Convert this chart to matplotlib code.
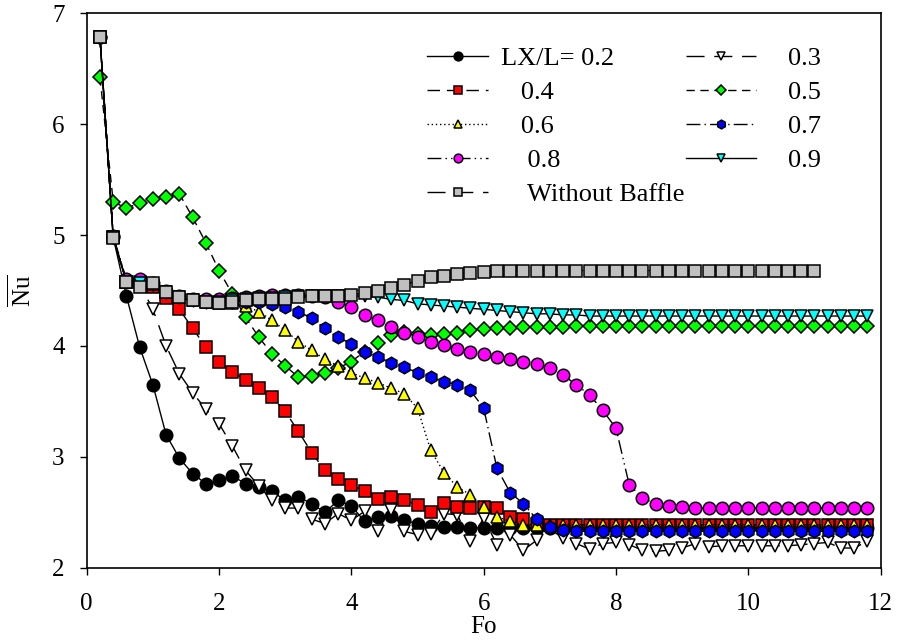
import numpy as np
import matplotlib
matplotlib.use('Agg')
import matplotlib.pyplot as plt

plt.rcParams['font.family'] = 'Liberation Serif'
plt.rcParams['mathtext.fontset'] = 'custom'
plt.rcParams['mathtext.rm'] = 'Liberation Serif'

fo = np.round(np.arange(0.2, 11.81, 0.2), 1)
fo_nb = fo[fo <= 11.0]

lx02 = [6.78, 4.98, 4.45, 3.99, 3.65, 3.20, 2.99, 2.85, 2.76, 2.79,
        2.83, 2.76, 2.73, 2.69, 2.61, 2.64, 2.58, 2.50, 2.61, 2.56,
        2.42, 2.46, 2.47, 2.43, 2.40, 2.38, 2.37, 2.37, 2.36, 2.36,
        2.36, 2.36, 2.36, 2.36, 2.36, 2.36, 2.36, 2.36, 2.36, 2.36,
        2.36, 2.36, 2.36, 2.36, 2.36, 2.36, 2.36, 2.36, 2.36, 2.36,
        2.36, 2.36, 2.36, 2.36, 2.36, 2.36, 2.36, 2.36, 2.36]
lx03 = [6.78, 4.98, 4.58, 4.56, 4.33, 4.00, 3.75, 3.58, 3.43, 3.30,
        3.10, 2.88, 2.74, 2.61, 2.54, 2.54, 2.44, 2.40, 2.49, 2.43,
        2.51, 2.33, 2.52, 2.33, 2.30, 2.31, 2.49, 2.48, 2.24, 2.45,
        2.21, 2.30, 2.16, 2.25, 2.35, 2.27, 2.22, 2.17, 2.22, 2.23,
        2.21, 2.16, 2.15, 2.16, 2.18, 2.22, 2.19, 2.20, 2.20, 2.20,
        2.20, 2.20, 2.20, 2.21, 2.22, 2.23, 2.18, 2.18, 2.24]
lx04 = [6.78, 4.98, 4.58, 4.58, 4.53, 4.43, 4.33, 4.16, 3.99, 3.86,
        3.77, 3.69, 3.62, 3.54, 3.41, 3.23, 3.04, 2.88, 2.80, 2.75,
        2.69, 2.62, 2.64, 2.61, 2.57, 2.50, 2.59, 2.55, 2.54, 2.55,
        2.54, 2.46, 2.44, 2.40, 2.39, 2.39, 2.39, 2.39, 2.39, 2.39,
        2.39, 2.39, 2.39, 2.39, 2.39, 2.39, 2.39, 2.39, 2.39, 2.39,
        2.39, 2.39, 2.39, 2.39, 2.39, 2.39, 2.39, 2.39, 2.39]
lx05 = [6.42, 5.30, 5.24, 5.29, 5.32, 5.34, 5.37, 5.16, 4.93, 4.68,
        4.47, 4.26, 4.08, 3.93, 3.82, 3.72, 3.73, 3.76, 3.80, 3.86,
        3.95, 4.03, 4.10, 4.13, 4.11, 4.10, 4.11, 4.12, 4.14, 4.15,
        4.16, 4.16, 4.17, 4.17, 4.17, 4.17, 4.18, 4.18, 4.18, 4.18,
        4.18, 4.18, 4.18, 4.18, 4.18, 4.18, 4.18, 4.18, 4.18, 4.18,
        4.18, 4.18, 4.18, 4.18, 4.18, 4.18, 4.18, 4.18, 4.18]
lx06 = [6.78, 4.98, 4.58, 4.58, 4.56, 4.49, 4.44, 4.41, 4.40, 4.39,
        4.39, 4.36, 4.31, 4.23, 4.14, 4.04, 3.96, 3.88, 3.82, 3.76,
        3.71, 3.67, 3.62, 3.57, 3.44, 3.06, 2.86, 2.73, 2.66, 2.55,
        2.46, 2.42, 2.39, 2.39, 2.39, 2.39, 2.39, 2.39, 2.39, 2.39,
        2.39, 2.39, 2.39, 2.39, 2.39, 2.39, 2.39, 2.39, 2.39, 2.39,
        2.39, 2.39, 2.39, 2.39, 2.39, 2.39, 2.39, 2.39, 2.39]
lx07 = [6.78, 4.98, 4.58, 4.58, 4.56, 4.49, 4.44, 4.41, 4.40, 4.40,
        4.40, 4.40, 4.40, 4.38, 4.35, 4.31, 4.25, 4.16, 4.08, 4.02,
        3.95, 3.90, 3.85, 3.81, 3.76, 3.72, 3.68, 3.65, 3.60, 3.44,
        2.90, 2.68, 2.58, 2.44, 2.37, 2.34, 2.33, 2.33, 2.33, 2.33,
        2.33, 2.33, 2.33, 2.33, 2.33, 2.33, 2.33, 2.33, 2.33, 2.33,
        2.33, 2.33, 2.33, 2.33, 2.33, 2.33, 2.33, 2.33, 2.33]
lx08 = [6.78, 4.99, 4.60, 4.60, 4.57, 4.50, 4.45, 4.42, 4.42, 4.42,
        4.43, 4.44, 4.45, 4.46, 4.46, 4.46, 4.45, 4.44, 4.40, 4.35,
        4.28, 4.23, 4.17, 4.12, 4.08, 4.04, 4.01, 3.97, 3.95, 3.93,
        3.90, 3.88, 3.86, 3.84, 3.80, 3.74, 3.65, 3.56, 3.42, 3.26,
        2.75, 2.63, 2.58, 2.56, 2.55, 2.54, 2.54, 2.54, 2.54, 2.54,
        2.54, 2.54, 2.54, 2.54, 2.54, 2.54, 2.54, 2.54, 2.54]
lx09 = [6.78, 4.98, 4.58, 4.57, 4.55, 4.49, 4.44, 4.41, 4.40, 4.40,
        4.41, 4.42, 4.43, 4.43, 4.44, 4.45, 4.45, 4.45, 4.45, 4.45,
        4.45, 4.44, 4.42, 4.41, 4.38, 4.37, 4.36, 4.35, 4.34, 4.33,
        4.32, 4.31, 4.30, 4.29, 4.29, 4.28, 4.28, 4.27, 4.27, 4.27,
        4.27, 4.27, 4.27, 4.27, 4.27, 4.27, 4.27, 4.27, 4.27, 4.27,
        4.27, 4.27, 4.27, 4.27, 4.27, 4.27, 4.27, 4.27, 4.27]
no_baffle = [6.78, 4.97, 4.58, 4.53, 4.57, 4.49, 4.44, 4.41, 4.40, 4.39,
             4.40, 4.41, 4.42, 4.42, 4.42, 4.44, 4.45, 4.45, 4.45, 4.46,
             4.48, 4.50, 4.52, 4.55, 4.59, 4.62, 4.63, 4.65, 4.66, 4.67,
             4.68, 4.68, 4.68, 4.68, 4.68, 4.68, 4.68, 4.68, 4.68, 4.68,
             4.68, 4.68, 4.68, 4.68, 4.68, 4.68, 4.68, 4.68, 4.68, 4.68,
             4.68, 4.68, 4.68, 4.68, 4.68]

fig = plt.figure(figsize=(8.97, 6.41), dpi=100)
ax = fig.add_axes([0.0967, 0.1139, 0.8850, 0.8658])

def draw(y, marker, color, ls, ms, label, x=fo):
    line, = ax.plot(x, y, color='black', lw=1, linestyle=ls, marker=marker,
                    markersize=ms, markerfacecolor=color, markeredgecolor='black',
                    markeredgewidth=1.1, label=label)
    return line

h02 = draw(lx02, 'o', 'black', '-', 9, 'LX/L= 0.2')
h03 = draw(lx03, 'v', 'white', (0, (13, 7)), 9, '0.3')
h04 = draw(lx04, 's', '#FF0000', (0, (9, 5)), 8, '   0.4')
h05 = draw(lx05, 'D', '#00FF00', (0, (6, 4)), 7, '0.5')
h06 = draw(lx06, '^', '#FFFF00', (0, (1, 2)), 9, '   0.6')
h07 = draw(lx07, 'h', '#0000FF', (0, (10, 3, 1, 3)), 9, '0.7')
h08 = draw(lx08, 'o', '#FF00FF', (0, (10, 3, 1, 3, 1, 3)), 9, '    0.8')
h09 = draw(lx09, 'v', '#00FFFF', '-', 9, '0.9')
hnb = draw(no_baffle, 's', '#C0C0C0', (0, (13, 7)), 8, '    Without Baffle', x=fo_nb)

ax.set_xlim(0, 12)
ax.set_ylim(2, 7)
ax.set_xticks([0, 2, 4, 6, 8, 10, 12])
ax.set_yticks([2, 3, 4, 5, 6, 7])
ax.tick_params(direction='out', length=5, width=1, pad=11, labelsize=18,
               top=False, right=False)
ax.tick_params(axis='x', pad=13)
for s in ax.spines.values():
    s.set_linewidth(1.2)
ax.set_xlabel('Fo', fontsize=18, labelpad=1)
ax.set_ylabel(r'$\overline{\mathrm{Nu}}$', fontsize=18, labelpad=12)

leg1 = ax.legend(handles=[h02, h04, h06, h08, hnb], loc='upper left',
                 bbox_to_anchor=(0.429, 0.94), frameon=False, fontsize=19,
                 handlelength=2.3, handletextpad=0.5, labelspacing=0.4,
                 borderpad=0, borderaxespad=0, markerscale=0.7)
ax.add_artist(leg1)
ax.legend(handles=[h03, h05, h07, h09], loc='upper left',
          bbox_to_anchor=(0.755, 0.94), frameon=False, fontsize=19,
          handlelength=2.65, handletextpad=1.2, labelspacing=0.4,
          borderpad=0, borderaxespad=0, markerscale=0.7)

fig.savefig('out.png', dpi=100)
